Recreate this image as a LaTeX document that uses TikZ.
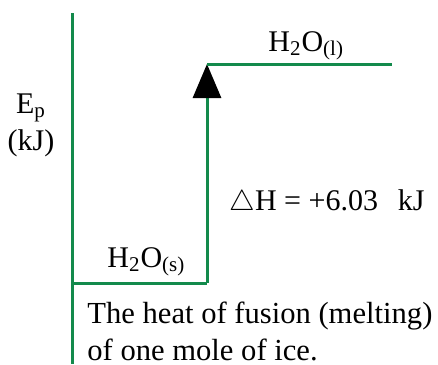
\documentclass[tikz,border=0pt]{standalone}
\usepackage{fontspec}
\setmainfont{Liberation Serif}
\usetikzlibrary{arrows.meta, positioning}
\definecolor{levelgreen}{HTML}{138A4C}

\begin{document}
\begin{tikzpicture}[
  x=0.5pt, y=-0.5pt,
  lvl/.style={draw=levelgreen, line width=1.5pt},
  rise/.style={-{Triangle[length=17pt, width=14pt, color=black]}, levelgreen, line width=1.5pt},
  lbl/.style={font=\fontsize{15}{17}\selectfont, inner sep=0pt},
  note/.style={font=\fontsize{15.3}{19}\selectfont, inner sep=0pt, anchor=base west}
]
  \useasboundingbox (0,0) rectangle (438,364);

  % axis and energy levels
  \coordinate (axtop) at (72,13);
  \coordinate (axbot) at (72,364);
  \coordinate (solid) at (72,283);
  \coordinate (step) at (207,283);
  \coordinate (liquid) at (207,64);
  \coordinate (liqend) at (392,64);

  \draw[lvl] (axtop) -- (axbot);
  \draw[lvl] (solid) -- (step);
  \draw[rise] (step) -- (liquid);
  \draw[lvl] (liquid) -- (liqend);

  % labels
  \node[lbl, anchor=base] (ep) at (31,113) {E\textsubscript{p}};
  \node[lbl, anchor=base, below=8pt of ep.base] (unit) {(kJ)};
  \node[lbl, anchor=base west] (hl) at (268,51) {H\textsubscript{2}O\textsubscript{(l)}};
  \node[lbl, anchor=base west] (hs) at (107,267) {H\textsubscript{2}O\textsubscript{(s)}};
  \node[lbl, anchor=base west] (dh) at (229,210) {$\triangle$H = +6.03\ \ \,kJ};
  \node[note] (cap1) at (87,323) {The heat of fusion (melting)};
  \node[note] (cap2) at (87,360) {of one mole of ice.};
\end{tikzpicture}
\end{document}
